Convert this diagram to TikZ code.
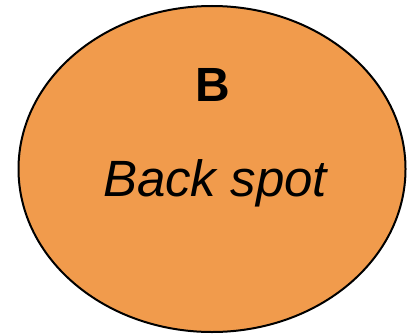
\documentclass[tikz,border=0pt]{standalone}
\usepackage{fontspec}
\setmainfont{Liberation Sans}
\usetikzlibrary{shapes.geometric}
\definecolor{spot}{RGB}{241,155,76}
\begin{document}
\begin{tikzpicture}[x=1pt,y=1pt,
  spotshape/.style={ellipse, draw=black, line width=2pt, fill=spot, minimum width=387pt, minimum height=326pt, inner sep=0pt},
  lbl/.style={anchor=base, inner sep=0pt}]
\useasboundingbox (0,0) rectangle (414,333);
\node[spotshape] (spot) at (212,164) {};
\node[lbl, font=\fontsize{48}{56}\selectfont\bfseries] (letter) at (213,232) {B};
\node[lbl, font=\fontsize{51}{60}\selectfont\itshape] (name) at (215,137) {Back spot};
\end{tikzpicture}
\end{document}
